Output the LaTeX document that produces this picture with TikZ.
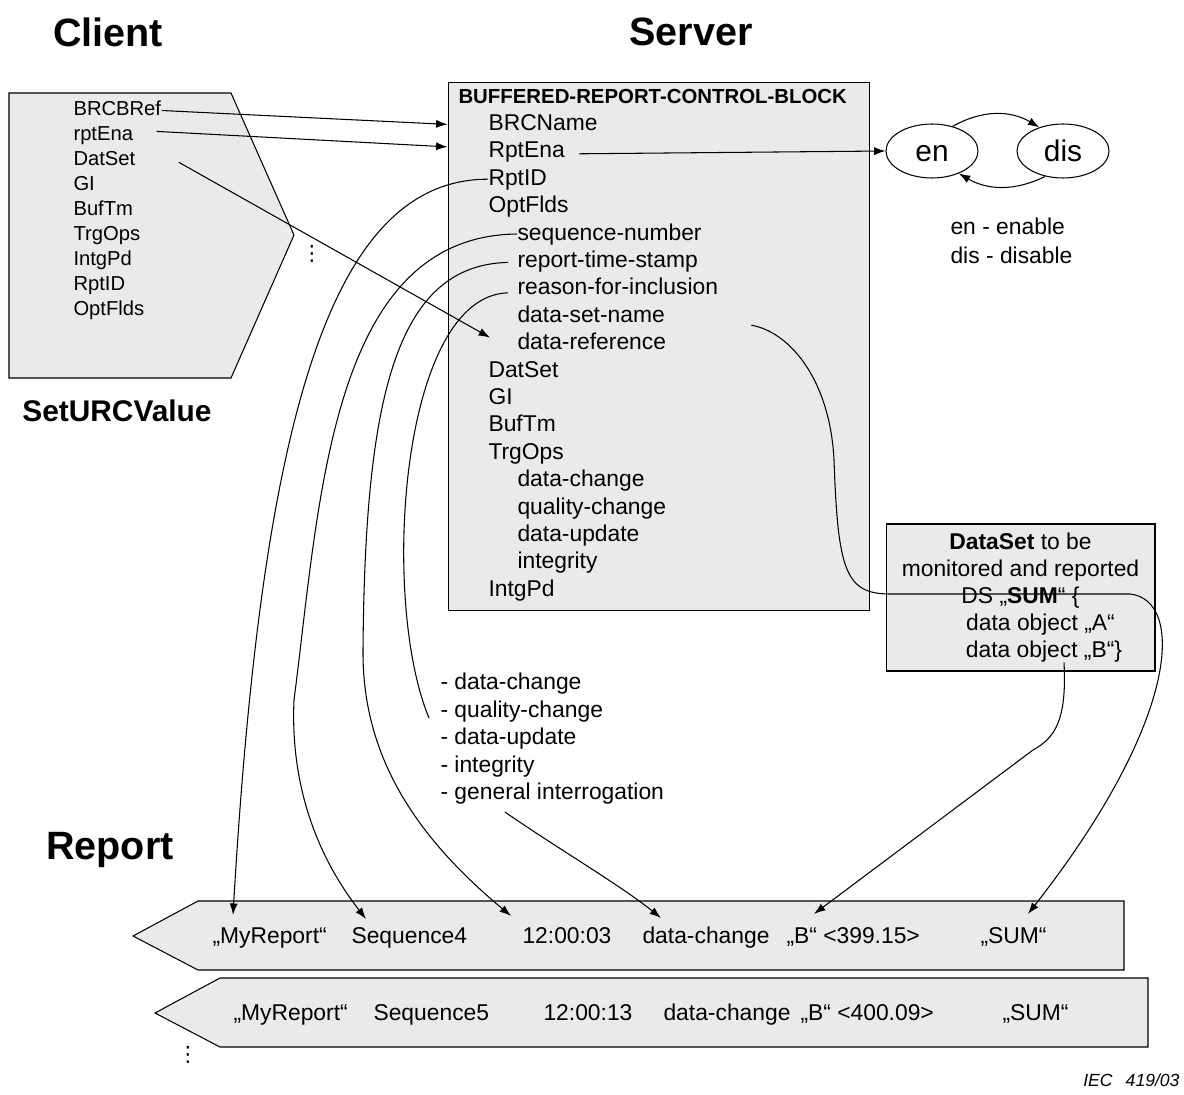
\documentclass[tikz,border=0pt]{standalone}
\usepackage{fontspec}
\setmainfont{Liberation Sans}
\newfontfamily\dotsfont{DejaVu Sans}
\usetikzlibrary{shapes.geometric,calc,arrows.meta}
\definecolor{panelgray}{RGB}{234,234,234}

\begin{document}
\begin{tikzpicture}[x=0.02cm, y=-0.02cm, >={Latex[length=6.5pt,width=4.6pt]}, line width=0.6pt,
  head/.style={font=\fontsize{22.5}{24}\selectfont\bfseries},
  item/.style={anchor=west, inner sep=0pt, font=\fontsize{13}{15}\selectfont, text height=9.5pt, text depth=2.5pt},
  citem/.style={item, font=\fontsize{11.5}{13}\selectfont, text height=8.4pt, text depth=2.2pt},
  panel/.style={draw, fill=panelgray},
  vdot/.style={inner sep=0pt, font=\fontsize{12}{14}\dotsfont},
  state/.style={draw, ellipse, minimum width=1.84cm, minimum height=1.08cm, inner sep=0pt,
    text height=12.2pt, text depth=0pt, font=\fontsize{17}{19}\selectfont}]
\useasboundingbox (0,0) rectangle (1184,1095);

% headings
\node[head] (client) at (108,32) {Client};
\node[head] (server) at (691,32) {Server};
\node[head] (report) at (110,850) {Report};
\node[font=\fontsize{17}{19}\selectfont\bfseries] (seturc) at (117,411) {SetURCValue};

% client request
\draw[panel] (9,93) -- (231,93) -- (294,235) -- (231,378) -- (9,378) -- cycle;
\node[citem] (cbrcbref) at (73,110.5) {BRCBRef};
\node[citem] (crptena) at (73,135.4) {rptEna};
\node[citem] (cdatset) at (73,160.3) {DatSet};
\node[citem] (cgi) at (73,185.2) {GI};
\node[citem] (cbuftm) at (73,210.1) {BufTm};
\node[citem] (ctrgops) at (73,235) {TrgOps};
\node[citem] (cintgpd) at (73,259.9) {IntgPd};
\node[citem] (crptid) at (73,284.8) {RptID};
\node[citem] (coptflds) at (73,309.7) {OptFlds};
\node[vdot] (cdots) at (312,254) {⋮};

% server control block
\node[panel, minimum width=8.44cm, minimum height=10.58cm, inner sep=0pt] (srv) at (659,346.5) {};
\node[item, font=\fontsize{11.6}{13}\selectfont\bfseries] (brcb) at (458,97) {BUFFERED-REPORT-CONTROL-BLOCK};
\node[item] (brcname) at (488,124.4) {BRCName};
\node[item] (rptena) at (488,151.8) {RptEna};
\node[item] (rptid) at (488,179.2) {RptID};
\node[item] (optflds) at (488,206.6) {OptFlds};
\node[item] (seq) at (517,234) {sequence-number};
\node[item] (rts) at (517,261.4) {report-time-stamp};
\node[item] (rfi) at (517,288.8) {reason-for-inclusion};
\node[item] (dsn) at (517,316.2) {data-set-name};
\node[item] (dref) at (517,343.6) {data-reference};
\node[item] (datset) at (488,371) {DatSet};
\node[item] (gi) at (488,398.4) {GI};
\node[item] (buftm) at (488,425.8) {BufTm};
\node[item] (trgops) at (488,453.2) {TrgOps};
\node[item] (dchg) at (517,480.6) {data-change};
\node[item] (qchg) at (517,508) {quality-change};
\node[item] (dupd) at (517,535.4) {data-update};
\node[item] (integ) at (517,562.8) {integrity};
\node[item] (intgpd) at (488,590.2) {IntgPd};

% enable states
\node[state] (en) at (932,151) {en};
\node[state] (dis) at (1063,151) {dis};
\node[item] (legen) at (950,228) {en - enable};
\node[item] (legdis) at (950,257) {dis - disable};

% data set
\node[panel, minimum width=5.38cm, minimum height=2.94cm, inner sep=0pt, align=center,
  font=\fontsize{13}{15.3}\selectfont] (dset) at (1020.5,597.5)
  {\textbf{DataSet} to be\\monitored and reported\\DS „\textbf{SUM}“ \{\\
   \hspace*{0.8cm}data object „A“\\\hspace*{0.94cm}data object „B“\}};

% reasons
\node[item] (tdc) at (440,683) {- data-change};
\node[item] (tqc) at (440,711) {- quality-change};
\node[item] (tdu) at (440,738) {- data-update};
\node[item] (tint) at (440,766) {- integrity};
\node[item] (tgi) at (440,793) {- general interrogation};

% reports
\draw[panel] (133,936) -- (198,901) -- (1124,901) -- (1124,970) -- (198,970) -- cycle;
\draw[panel] (155,1013) -- (220,978) -- (1148,978) -- (1148,1047) -- (220,1047) -- cycle;
\node[item] (mr1) at (212,937) {„MyReport“};
\node[item] (sq1) at (351,937) {Sequence4};
\node[item] (tm1) at (522,937) {12:00:03};
\node[item] (dc1) at (642,937) {data-change};
\node[item] (bv1) at (786,937) {„B“ <399.15>};
\node[item] (sum1) at (980,937) {„SUM“};
\node[item] (mr2) at (233,1014) {„MyReport“};
\node[item] (sq2) at (373,1014) {Sequence5};
\node[item] (tm2) at (543,1014) {12:00:13};
\node[item] (dc2) at (663,1014) {data-change};
\node[item] (bv2) at (800,1014) {„B“ <400.09>};
\node[item] (sum2) at (1002,1014) {„SUM“};
\node[vdot] (rdots) at (188,1055) {⋮};
\node[anchor=east, inner sep=0pt, font=\fontsize{10}{12}\selectfont\itshape] (iec) at (1180,1080) {IEC\hspace{0.75em}419/03};

% client to server
\draw[->] (cbrcbref.east) -- (srv.west |- brcname.west);
\draw[->] ($(crptena.east)+(23,-4)$) -- ([yshift=2.8pt]srv.west |- rptena.west);
\draw[->] ($(cdatset.east)+(43,2)$) -- ($(dref.west)+(-27,-6)$);

% enable / disable
\draw[->] ($(rptena.east)+(14,2)$) -- (en.west);
\draw[->] (en.50) to[bend left=30] (dis.135);
\draw[->] (dis.235) to[bend left=28] (en.320);

% server to report
\draw[->] (rptid.west) .. controls (330,179) and (262,420) .. ($(mr1.north west)+(21,-11)$);
\draw[->] (seq.west) .. controls (330,236) and (320,500) .. (294,700)
  .. controls (290,790) and (320,860) .. ($(sq1.north west)+(15,-7)$);
\draw[->] ($(rts.west)+(-9,1)$) .. controls (395,265) and (365,400) .. (363,650)
  .. controls (362,760) and (420,840) .. ($(tm1.north west)+(-11,-10)$);
\draw ($(rfi.west)+(-9,4)$) .. controls (400,296) and (380,600) .. ($(tqc.west)+(-11,7)$);
\draw[->] ($(tgi.south west)+(65,8)$) .. controls (560,850) and (620,885) .. ($(dc1.north west)+(19,-8)$);
\draw[->] ($(dsn.east)+(86,9)$) .. controls (790,332) and (830,380) .. (834,460)
  .. controls (838,570) and (845,594) .. (890,594) -- (1130,594)
  .. controls (1185,600) and (1180,720) .. ($(sum1.north west)+(48,-12)$);
\draw[->] ($(dset.south)+(43.5,-9)$) .. controls (1067,720) and (1055,738) .. (1033,750)
  -- ($(bv1.north west)+(28,-12)$);
\end{tikzpicture}
\end{document}
